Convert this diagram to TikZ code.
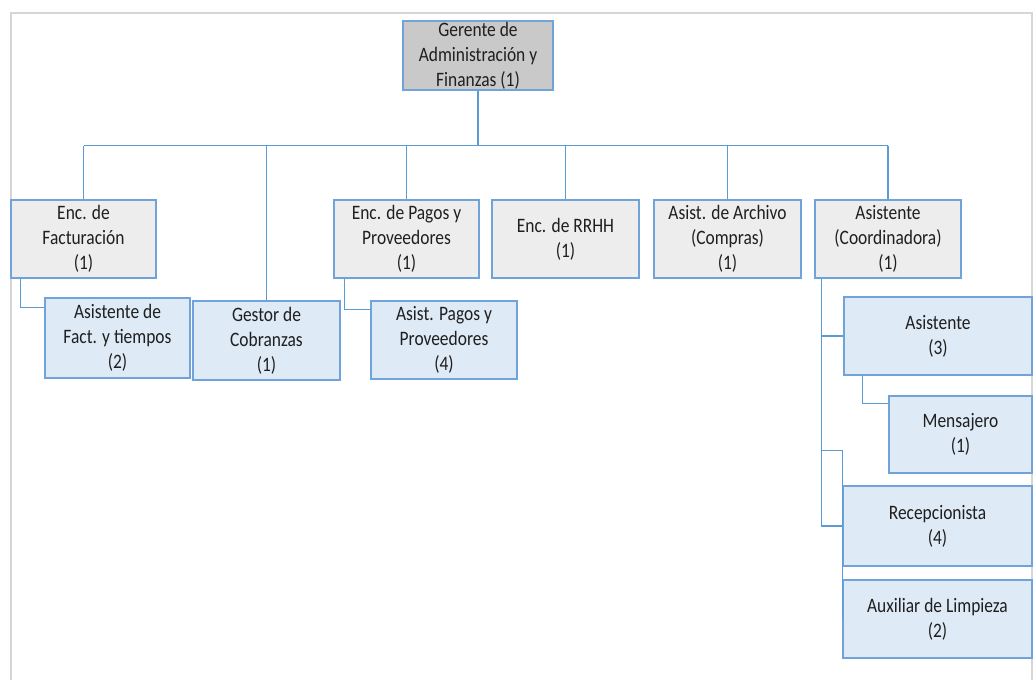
\documentclass[tikz,border=0pt]{standalone}
\usepackage{fontspec}
\setmainfont{Carlito}[FakeStretch=0.85]
\usetikzlibrary{calc}
\definecolor{c1}{HTML}{1F1F1F}
\definecolor{edgeblue}{HTML}{6FA3DA}
\definecolor{linkblue}{HTML}{5B9BD5}
\definecolor{topfill}{HTML}{C9C9C9}
\definecolor{headfill}{HTML}{EDEDED}
\definecolor{stafffill}{HTML}{DEEAF6}
\definecolor{framecolor}{HTML}{D6D6D6}

\begin{document}
\begin{tikzpicture}[
    x=1pt, y=-1pt,
    every node/.style={font=\fontsize{20.5}{25}\selectfont, text=c1, align=center, inner sep=0pt},
    boss/.style={rectangle, draw=edgeblue, fill=topfill, line width=1.2pt},
    head/.style={rectangle, draw=edgeblue, fill=headfill, line width=1.2pt, minimum height=78pt},
    staff/.style={rectangle, draw=edgeblue, fill=stafffill, line width=1.2pt},
    link/.style={draw=linkblue, line width=1.4pt},
]
\useasboundingbox (0,0) rectangle (1034,680);

% open frame round the chart
\draw[framecolor, line width=2pt] (11,680) -- (11,13) -- (1032,13) -- (1032,680);

% ============================================================ top
\node[boss, minimum width=150pt, minimum height=69pt] (ger) at (478,55.5)
    {Gerente de\\Administración y\\Finanzas (1)};

% ============================================================ heads
\node[head, minimum width=145pt] (fact)    at (83.5,239)  {Enc. de\\Facturación\\(1)};
\node[head, minimum width=145pt] (pagos)   at (406.5,239) {Enc. de Pagos y\\Proveedores\\(1)};
\node[head, minimum width=147pt] (rrhh)    at (565.5,239) {Enc. de RRHH\\(1)};
\node[head, minimum width=147pt] (archivo) at (727.5,239) {Asist. de Archivo\\(Compras)\\(1)};
\node[head, minimum width=146pt] (coord)   at (888,239)   {Asistente\\(Coordinadora)\\(1)};

% ============================================================ staff
\node[staff, minimum width=145pt, minimum height=80pt] (asfact)  at (117.5,338) {Asistente de\\Fact. y tiempos\\(2)};
\node[staff, minimum width=147pt, minimum height=79pt] (gestor)  at (266.5,340.5) {Gestor de\\Cobranzas\\(1)};
\node[staff, minimum width=146pt, minimum height=78pt] (aspagos) at (444,340) {Asist. Pagos y\\Proveedores\\(4)};
\node[staff, minimum width=188pt, minimum height=78pt] (asist)   at (938,336) {Asistente\\(3)};
\node[staff, minimum width=143pt, minimum height=77pt] (mens)    at (960.5,434.5) {Mensajero\\(1)};
\node[staff, minimum width=189pt, minimum height=80pt] (recep)   at (937.5,526) {Recepcionista\\(4)};
\node[staff, minimum width=189pt, minimum height=78pt] (aux)     at (937.5,619) {Auxiliar de Limpieza\\(2)};

% ============================================================ links
\draw[link] (ger.south) -- ++(0,55) coordinate (bus);
\draw[link] (bus -| fact.north) -- (bus -| coord.north);
\foreach \n in {fact, gestor, pagos, rrhh, archivo, coord}{
    \draw[link] (bus -| \n.north) -- (\n.north);
}
\draw[link] ($(fact.south west)+(10,0)$) |- ($(asfact.north west)+(0,10)$);
\draw[link] ($(pagos.south west)+(11,0)$) |- ($(aspagos.north west)+(0,9)$);
\draw[link] ($(coord.south west)+(7,0)$) coordinate (trunk) |- (recep.west);
\draw[link] (trunk |- asist.west) -- (asist.west);
\draw[link] ($(trunk)+(0,172)$) -| (aux.west);
\draw[link] ($(asist.south west)+(19,0)$) |- ($(mens.north west)+(0,8)$);

\end{tikzpicture}
\end{document}
